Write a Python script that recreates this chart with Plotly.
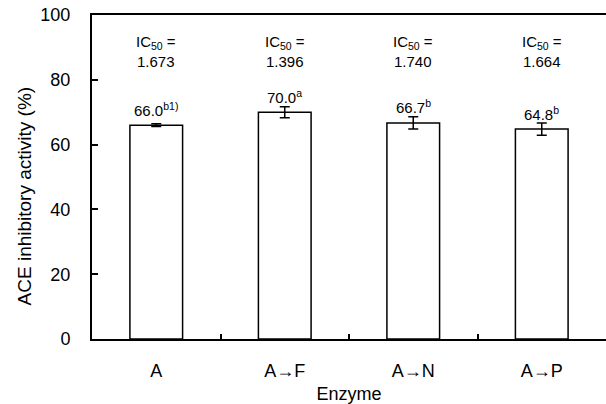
import plotly.graph_objects as go

categories = ["A", "A→F", "A→N", "A→P"]
activity = [66.0, 70.0, 66.7, 64.8]
errors = [0.4, 1.7, 1.9, 1.9]
letters = ["b1)", "a", "b", "b"]
ic50 = ["1.673", "1.396", "1.740", "1.664"]
y_ticks = [0, 20, 40, 60, 80, 100]

FONT = "Liberation Sans, Arial, sans-serif"

fig = go.Figure()
fig.add_trace(go.Bar(
    x=categories, y=activity,
    marker=dict(color="white", line=dict(color="black", width=1.5)),
    width=0.41,
    error_y=dict(type="data", array=errors, visible=True, color="black",
                 thickness=1.5, width=5),
    showlegend=False,
))

annotations = []
for c, v, e, l, ic in zip(categories, activity, errors, letters, ic50):
    annotations.append(dict(
        x=c, y=v, xref="x", yref="y", yshift=16, yanchor="middle",
        text=f"{v:.1f}<sup>{l}</sup>", showarrow=False,
        font=dict(size=15, color="black", family=FONT)))
    annotations.append(dict(
        x=c, y=91.5, xref="x", yref="y", yanchor="middle",
        text="IC<sub>50</sub> =", showarrow=False,
        font=dict(size=15, color="black", family=FONT)))
    annotations.append(dict(
        x=c, y=85.5, xref="x", yref="y", yanchor="middle",
        text=ic, showarrow=False,
        font=dict(size=15, color="black", family=FONT)))

annotations.append(dict(
    x=-68 / 514, y=0.44, xref="paper", yref="paper", xanchor="center",
    yanchor="middle", textangle=-90, showarrow=False,
    text="ACE inhibitory activity (%)",
    font=dict(size=19, color="black", family=FONT)))

fig.update_layout(
    width=606, height=404,
    margin=dict(l=92, r=0, t=15, b=65),
    paper_bgcolor="white", plot_bgcolor="white",
    font=dict(family=FONT, size=16, color="black"),
    annotations=annotations,
    xaxis=dict(
        range=[-0.5, 3.5], showline=True, linecolor="black", linewidth=2,
        mirror=True, ticks="inside", ticklen=5, tickwidth=1.5,
        tickcolor="black", tickson="boundaries", showgrid=False,
        ticklabelstandoff=14,
        title=dict(text="Enzyme", standoff=8, font=dict(size=18)),
        tickfont=dict(size=18),
    ),
    yaxis=dict(
        range=[0, 100], tickvals=y_ticks, showline=True, linecolor="black",
        linewidth=2, ticks="inside", ticklen=6, tickwidth=1.5,
        tickcolor="black", showgrid=False, zeroline=False,
        ticklabelstandoff=16,
        tickfont=dict(size=18),
    ),
)

fig.write_html("out.html")
